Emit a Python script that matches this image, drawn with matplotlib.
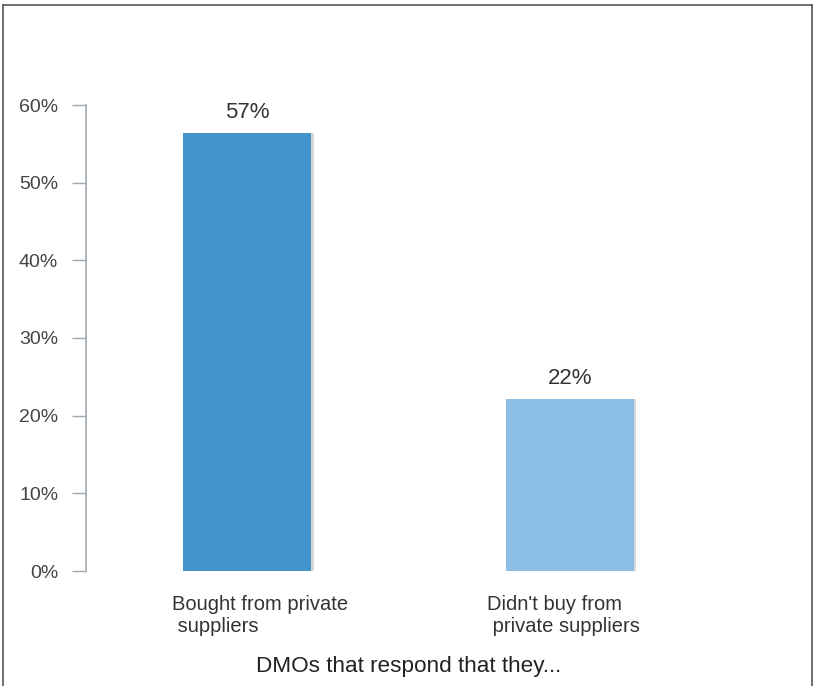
import matplotlib
matplotlib.use("Agg")
import matplotlib.pyplot as plt
from matplotlib.lines import Line2D
from matplotlib.transforms import ScaledTranslation

categories = ["Bought from private\n suppliers", "Didn't buy from\n private suppliers"]
values = [56.4, 22.1]
value_labels = ["57%", "22%"]
colors = ["#4394CB", "#8BBDE5"]
yticks = [0, 10, 20, 30, 40, 50, 60]
xlabel = "DMOs that respond that they..."

plt.rcParams['font.family'] = ['Liberation Sans', 'DejaVu Sans']

W, H = 815, 686
fig = plt.figure(figsize=(W / 100, H / 100), dpi=100)
ax = fig.add_axes([86 / W, (H - 571) / H, (731 - 86) / W, (571 - 105) / H])

x = list(range(len(categories)))
# subtle shadow on right edge
ax.bar([xi + 0.008 for xi in x], values, width=0.397, color="#d8d8d8", zorder=1)
bars = ax.bar(x, values, width=0.397, color=colors, zorder=2)
for xi, v, lab in zip(x, values, value_labels):
    ax.text(xi, v + 1.3, lab, ha="center", va="bottom", fontsize=16, color="#333333")

ax.set_xlim(-0.5, 1.5)
ax.set_ylim(0, 60)
ax.set_yticks(yticks)
ax.set_yticklabels([f"{t}%" for t in yticks], fontsize=14, color="#444444")
ax.tick_params(axis="y", length=10, width=1, color="#a0a8b0", pad=10)
ax.set_xticks(x)
ax.set_xticklabels(categories, fontsize=14.5, color="#333333", multialignment="left",
                   linespacing=1.2)
ax.tick_params(axis="x", length=0, pad=17)
offsets = [13, -6]
for lab, dx in zip(ax.get_xticklabels(), offsets):
    lab.set_transform(lab.get_transform() + ScaledTranslation(dx / 100, 0, fig.dpi_scale_trans))
for s in ["top", "right", "bottom"]:
    ax.spines[s].set_visible(False)
ax.spines["left"].set_color("#a0a8b0")
ax.spines["left"].set_linewidth(1.2)
ax.set_xlabel(xlabel, fontsize=16.2, color="#222222", labelpad=15)

# figure border
bc = "#555555"
fig.add_artist(Line2D([3 / W, 812 / W], [1 - 5 / H, 1 - 5 / H], color=bc, lw=1.2, transform=fig.transFigure))
fig.add_artist(Line2D([3 / W, 3 / W], [0, 1 - 5 / H], color=bc, lw=1.2, transform=fig.transFigure))
fig.add_artist(Line2D([812 / W, 812 / W], [0, 1 - 5 / H], color=bc, lw=1.2, transform=fig.transFigure))

fig.savefig("out.png", dpi=100)
